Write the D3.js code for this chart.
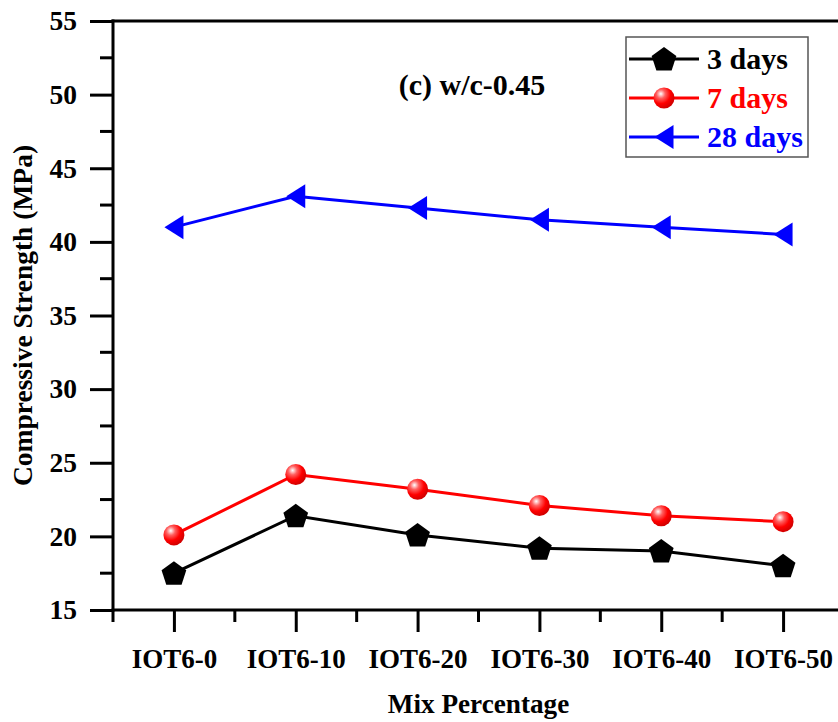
<!DOCTYPE html>
<html>
<head>
<meta charset="utf-8">
<script src="https://cdn.jsdelivr.net/npm/d3@7/dist/d3.min.js"></script>
<style>
  html, body { margin: 0; padding: 0; background: #fff; }
  svg { display: block; }
  text { font-family: "Liberation Serif", "Times New Roman", serif; font-weight: bold; }
</style>
</head>
<body>
<svg id="chart" width="838" height="722"></svg>
<script>
// Mix designs along the x axis
const categories = ["IOT6-0", "IOT6-10", "IOT6-20", "IOT6-30", "IOT6-40", "IOT6-50"];
// Compressive strength (MPa) at each curing age
const days3 = [17.5, 21.4, 20.1, 19.2, 19.0, 18.0];
const days7 = [20.1, 24.2, 23.2, 22.1, 21.4, 21.0];
const days28 = [41.0, 43.1, 42.3, 41.5, 41.0, 40.5];
const seriesNames = ["3 days", "7 days", "28 days"];
const yTicks = [15, 20, 25, 30, 35, 40, 45, 50, 55];

(function () {
  const svg = d3.select("#chart");
  const W = 838;
  const mLeft = 113, mRight = 844, mTop = 21, mBottom = 610;

  const x = d3.scalePoint().domain(categories).range([mLeft, mRight]).padding(0.5);
  const y = d3.scaleLinear().domain([15, 55]).range([mBottom, mTop]);

  const defs = svg.append("defs");
  const grad = defs.append("radialGradient").attr("id", "ball")
    .attr("cx", "35%").attr("cy", "32%").attr("r", "70%").attr("fx", "35%").attr("fy", "30%");
  grad.append("stop").attr("offset", "0%").attr("stop-color", "#ffffff");
  grad.append("stop").attr("offset", "30%").attr("stop-color", "#ff6060");
  grad.append("stop").attr("offset", "65%").attr("stop-color", "#ff0000");
  grad.append("stop").attr("offset", "100%").attr("stop-color", "#d00000");

  // pentagon path centred on the origin
  function pentagon(r) {
    const pts = d3.range(5).map(i => {
      const a = -Math.PI / 2 + i * 2 * Math.PI / 5;
      return [r * Math.cos(a), r * Math.sin(a)];
    });
    return "M" + pts.map(p => p.join(",")).join("L") + "Z";
  }
  // left-pointing triangle
  function leftTriangle(w, h) {
    return `M${-w / 2},0L${w / 2},${-h / 2}L${w / 2},${h / 2}Z`;
  }

  const series = [
    { name: seriesNames[0], values: days3, color: "#000000", marker: "pentagon" },
    { name: seriesNames[1], values: days7, color: "#ff0000", marker: "ball" },
    { name: seriesNames[2], values: days28, color: "#0000ff", marker: "triangle" }
  ];

  function drawMarker(g, kind, color) {
    if (kind === "pentagon") {
      g.append("path").attr("d", pentagon(13)).attr("fill", color).attr("transform", "translate(0,1)");
    } else if (kind === "ball") {
      g.append("circle").attr("r", 10.5).attr("fill", "url(#ball)");
    } else {
      g.append("path").attr("d", leftTriangle(19, 24)).attr("fill", color);
    }
  }

  const axisColor = "#000";
  const axW = 3;

  // y axis
  const yAxis = d3.axisLeft(y).tickValues(yTicks).tickSize(23).tickPadding(13).tickFormat(d3.format("d"));
  const gy = svg.append("g").attr("transform", `translate(${mLeft},0)`).call(yAxis);
  gy.select(".domain").attr("stroke-width", axW).attr("d", `M0,${mBottom + 1.5}V${mTop - 1.5}`);
  gy.selectAll(".tick line").attr("stroke-width", axW);
  gy.selectAll(".tick text").attr("font-size", 27.5).attr("font-family", "Liberation Serif")
    .attr("font-weight", "bold").attr("fill", "#000");
  // y minor ticks
  const yMinor = d3.range(17.5, 55, 5);
  svg.append("g").selectAll("line").data(yMinor).join("line")
    .attr("x1", mLeft - 13).attr("x2", mLeft).attr("y1", d => y(d)).attr("y2", d => y(d))
    .attr("stroke", axisColor).attr("stroke-width", axW);

  // x axis
  const xAxis = d3.axisBottom(x).tickSize(22).tickPadding(17);
  const gx = svg.append("g").attr("transform", `translate(0,${mBottom})`).call(xAxis);
  gx.select(".domain").attr("stroke-width", axW).attr("d", `M${mLeft - 1.5},0H${W + 10}`);
  gx.selectAll(".tick line").attr("stroke-width", axW);
  gx.selectAll(".tick text").attr("font-size", 27).attr("font-family", "Liberation Serif")
    .attr("font-weight", "bold").attr("fill", "#000");
  // x minor ticks at the boundaries between mixes
  const xMinor = d3.range(categories.length + 1).map(i => x(categories[0]) - x.step() / 2 + i * x.step());
  svg.append("g").selectAll("line").data(xMinor).join("line")
    .attr("x1", d => d).attr("x2", d => d).attr("y1", mBottom).attr("y2", mBottom + 12)
    .attr("stroke", axisColor).attr("stroke-width", axW);

  // top frame line
  svg.append("line").attr("x1", mLeft - 1.5).attr("x2", W + 10).attr("y1", mTop).attr("y2", mTop)
    .attr("stroke", axisColor).attr("stroke-width", axW);

  // series lines and markers
  const line = d3.line().x((d, i) => x(categories[i])).y(d => y(d));
  series.forEach(s => {
    svg.append("path").datum(s.values).attr("d", line)
      .attr("fill", "none").attr("stroke", s.color).attr("stroke-width", 3);
    s.values.forEach((v, i) => {
      const g = svg.append("g").attr("transform", `translate(${x(categories[i])},${y(v)})`);
      drawMarker(g, s.marker, s.color);
    });
  });

  // panel label
  svg.append("text").attr("x", 472).attr("y", 95).attr("text-anchor", "middle")
    .attr("font-size", 30).text("(c) w/c-0.45");

  // legend
  const lg = svg.append("g");
  lg.append("rect").attr("x", 626).attr("y", 37).attr("width", 182).attr("height", 120)
    .attr("fill", "#fff").attr("stroke", "#555").attr("stroke-width", 1.5);
  series.forEach((s, i) => {
    const cy = 59 + i * 39;
    lg.append("line").attr("x1", 629).attr("x2", 699).attr("y1", cy).attr("y2", cy)
      .attr("stroke", s.color).attr("stroke-width", 3);
    const g = lg.append("g").attr("transform", `translate(664,${cy})`);
    drawMarker(g, s.marker, s.color);
    lg.append("text").attr("x", 707).attr("y", cy + 10).attr("font-size", 30)
      .attr("fill", s.color).text(s.name);
  });

  // axis titles
  svg.append("text").attr("x", (mLeft + mRight) / 2).attr("y", 713).attr("text-anchor", "middle")
    .attr("font-size", 27.2).text("Mix Percentage");
  svg.append("text")
    .attr("transform", `translate(32,${(mTop + mBottom) / 2}) rotate(-90)`)
    .attr("text-anchor", "middle").attr("font-size", 27.5).text("Compressive Strength (MPa)");
})();
</script>
</body>
</html>
